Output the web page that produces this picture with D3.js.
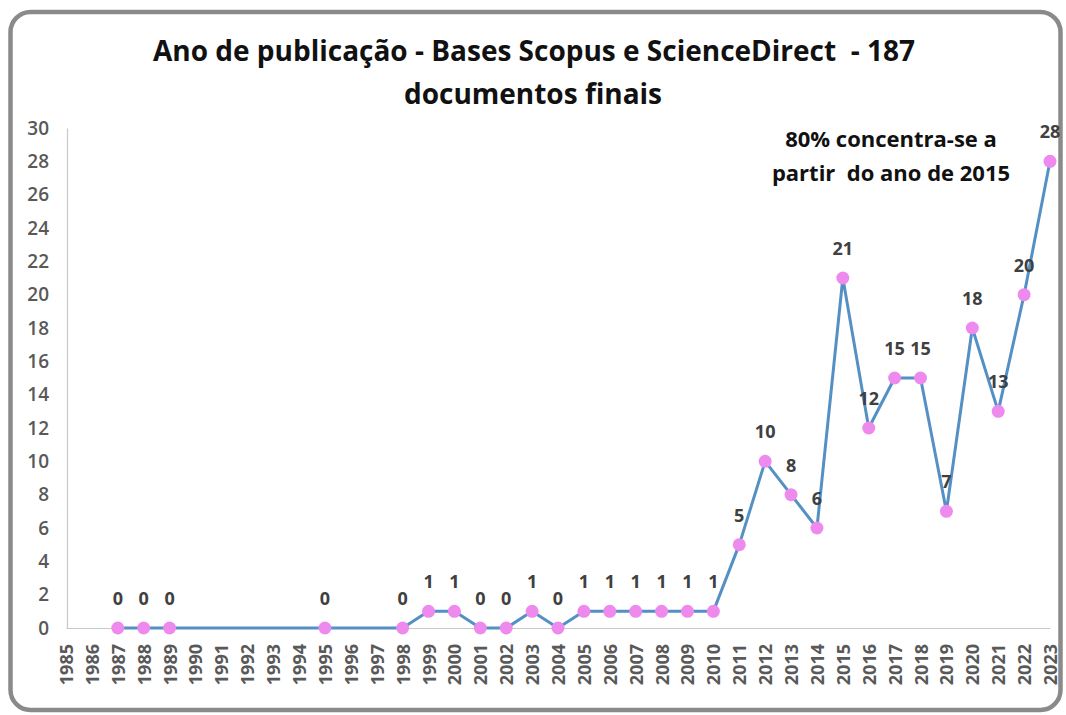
<!DOCTYPE html>
<html>
<head>
<meta charset="utf-8">
<script src="https://cdn.jsdelivr.net/npm/d3@7"></script>
<style>
  body { margin: 0; background: #fff; }
  svg text { white-space: pre; }
</style>
</head>
<body>
<div id="chart"></div>
<script>
// Data
const years = [1987, 1988, 1989, 1995, 1998, 1999, 2000, 2001, 2002, 2003, 2004,
  2005, 2006, 2007, 2008, 2009, 2010, 2011, 2012, 2013, 2014, 2015, 2016, 2017,
  2018, 2019, 2020, 2021, 2022, 2023];
const counts = [0, 0, 0, 0, 0, 1, 1, 0, 0, 1, 0,
  1, 1, 1, 1, 1, 1, 5, 10, 8, 6, 21, 12, 15,
  15, 7, 18, 13, 20, 28];
const yearTicks = d3.range(1985, 2024);
const countTicks = d3.range(0, 31, 2);
const titleLines = ["Ano de publicação - Bases Scopus e ScienceDirect  - 187", "documentos finais"];
const noteLines = ["80% concentra-se a", "partir  do ano de 2015"];

const width = 1066, height = 715;
const margin = { top: 128, right: 16, bottom: 87, left: 66 };
const font = "'Open Sans', 'Noto Sans', sans-serif";

const svg = d3.select("#chart")
  .append("svg")
  .attr("width", width)
  .attr("height", height);

// Rounded frame
svg.append("rect")
  .attr("x", 10.5)
  .attr("y", 12)
  .attr("width", 1050)
  .attr("height", 698)
  .attr("rx", 20)
  .attr("fill", "#fff")
  .attr("stroke", "#8a8a8a")
  .attr("stroke-width", 4.5);

const x = d3.scaleLinear()
  .domain([yearTicks[0], yearTicks[yearTicks.length - 1]])
  .range([margin.left, width - margin.right]);
const y = d3.scaleLinear()
  .domain([0, 30])
  .range([height - margin.bottom, margin.top]);

// Y axis
const yAxis = svg.append("g")
  .attr("transform", `translate(${margin.left + 1},0)`)
  .call(d3.axisLeft(y).tickValues(countTicks).tickSize(0).tickPadding(18));
yAxis.select(".domain").attr("stroke", "#c8c8c8").attr("stroke-width", 1.2);
yAxis.selectAll("text")
  .style("font-family", font)
  .style("font-size", "19px")
  .style("font-weight", 600)
  .attr("fill", "#595959");

// X axis
const xAxis = svg.append("g")
  .attr("transform", `translate(0,${y(0)})`)
  .call(d3.axisBottom(x).tickValues(yearTicks).tickFormat(d3.format("d")).tickSize(0));
xAxis.select(".domain").attr("stroke", "#c8c8c8").attr("stroke-width", 1.2);
xAxis.selectAll("text")
  .attr("y", 0)
  .attr("x", -16)
  .attr("dy", "0.36em")
  .attr("transform", "rotate(-90)")
  .style("text-anchor", "end")
  .style("font-family", font)
  .style("font-size", "18px")
  .style("font-weight", 700)
  .attr("fill", "#595959");

const points = years.map((yr, i) => ({ year: yr, value: counts[i] }));

// Line
svg.append("path")
  .datum(points)
  .attr("fill", "none")
  .attr("stroke", "#5590c4")
  .attr("stroke-width", 3)
  .attr("stroke-linejoin", "round")
  .attr("d", d3.line().x(d => x(d.year)).y(d => y(d.value)));

// Markers
svg.selectAll(".marker")
  .data(points)
  .enter()
  .append("circle")
  .attr("class", "marker")
  .attr("cx", d => x(d.year))
  .attr("cy", d => y(d.value))
  .attr("r", 6.5)
  .attr("fill", "#ee8aee");

// Data labels
svg.selectAll(".label")
  .data(points)
  .enter()
  .append("text")
  .attr("class", "label")
  .attr("x", d => x(d.year))
  .attr("y", d => y(d.value) - 23)
  .attr("text-anchor", "middle")
  .style("font-family", font)
  .style("font-size", "18px")
  .style("font-weight", 700)
  .attr("fill", "#404040")
  .text(d => d.value);

// Title, squeezed to the narrow width of the original font
const titleWidth = 762;
const title = svg.append("g");
const t1 = title.append("text")
  .attr("x", 534)
  .attr("y", 61)
  .attr("text-anchor", "middle")
  .style("font-family", font)
  .style("font-size", "28px")
  .style("font-weight", 700)
  .attr("fill", "#111")
  .text(titleLines[0]);
const ratio = titleWidth / t1.node().getComputedTextLength();
t1.attr("textLength", titleWidth).attr("lengthAdjust", "spacingAndGlyphs");
const t2 = title.append("text")
  .attr("x", 533)
  .attr("y", 104)
  .attr("text-anchor", "middle")
  .style("font-family", font)
  .style("font-size", "28px")
  .style("font-weight", 700)
  .attr("fill", "#111")
  .text(titleLines[1]);
t2.attr("textLength", t2.node().getComputedTextLength() * ratio)
  .attr("lengthAdjust", "spacingAndGlyphs");

// Annotation
svg.selectAll(".note")
  .data(noteLines)
  .enter()
  .append("text")
  .attr("class", "note")
  .attr("x", 891)
  .attr("y", (d, i) => 147 + i * 34)
  .attr("text-anchor", "middle")
  .style("font-family", font)
  .style("font-size", "22px")
  .style("font-weight", 700)
  .attr("fill", "#111")
  .text(d => d);
</script>
</body>
</html>
